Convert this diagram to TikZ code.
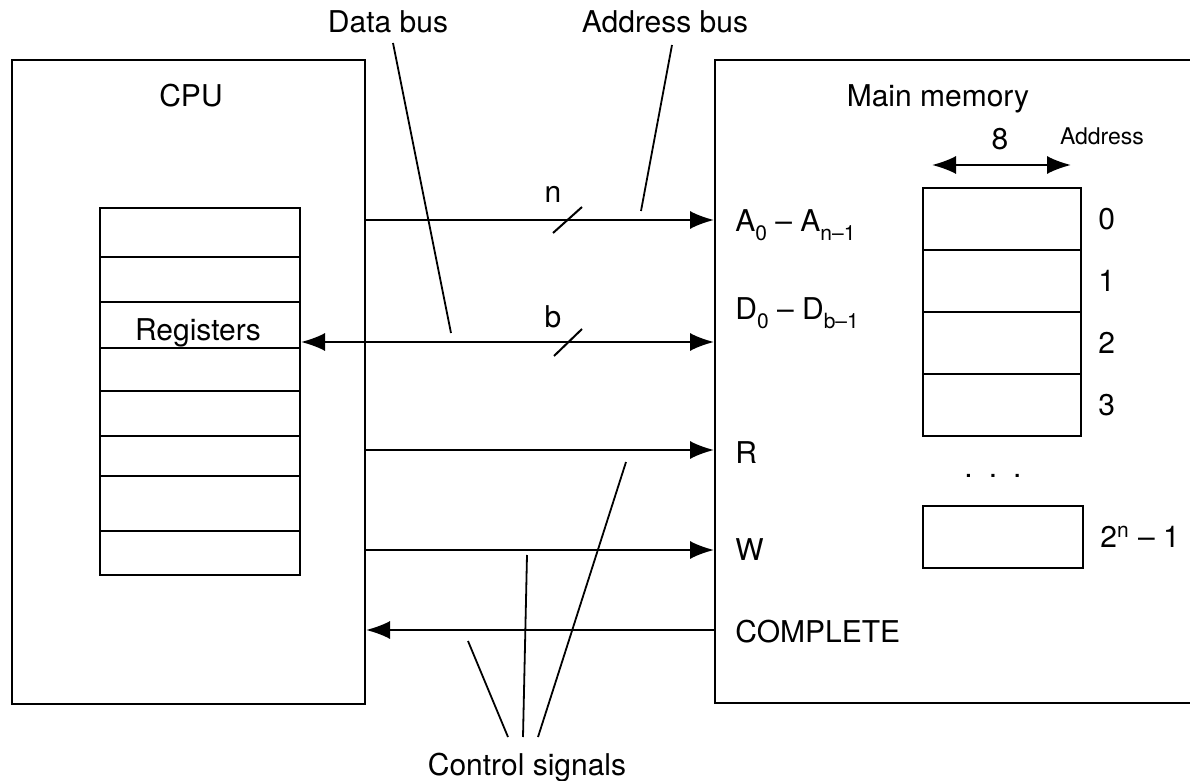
\documentclass[tikz,border=0pt]{standalone}
\usepackage{fontspec}
\setmainfont{TeX Gyre Heros}
\usetikzlibrary{arrows.meta,positioning}

\newcommand{\lowsub}[1]{\raisebox{-4.5pt}{\fontsize{10.5}{12}\selectfont #1}}

\tikzset{
  box/.style={draw, line width=1pt, inner sep=0pt},
  cell/.style={draw, line width=1pt, minimum width=79pt, minimum height=31pt, inner sep=0pt},
  bus/.style={line width=1pt, -{Latex[length=12pt,width=9pt]}},
  dbus/.style={line width=1pt, {Latex[length=12pt,width=9pt]}-{Latex[length=12pt,width=9pt]}},
  txt/.style={inner sep=0pt, anchor=base},
  sig/.style={inner sep=0pt, anchor=base west},
  leader/.style={line width=0.9pt},
}

\begin{document}
\begin{tikzpicture}[x=0.5pt, y=-0.5pt, font=\fontsize{15}{18}\selectfont]
\useasboundingbox (0,0) rectangle (1190,781);
\clip (0,0) rectangle (1190,781);

% the two units
\node[box, minimum width=176.5pt, minimum height=322pt] (cpu) at (188.5,382) {};
\node[box, minimum width=240.5pt, minimum height=321.5pt] (mem) at (955.5,381.5) {};
\node[txt] (cputitle) at (191,107) {CPU};
\node[txt] (memtitle) at (938,107) {Main memory};

% registers
\node[box, minimum width=100pt, minimum height=183.5pt] (regs) at (200,391.5) {};
\foreach \y in {257,302,348,391,436,476,531}
  \draw[line width=1pt] (regs.west |- 0,\y) -- (regs.east |- 0,\y);
\node[txt] (reglabel) at (198,340) {Registers};

% memory cells
\foreach \i in {0,...,3} {
  \node[cell] (cell\i) at (1002,219+62*\i) {};
  \node[inner sep=0pt, right=8pt of cell\i] (addr\i) {\i};
}
\node[cell, minimum width=80pt] (celln) at (1003,537) {};
\node[inner sep=0pt, right=8pt of celln] (addrn) {2\textsuperscript{n} – 1};
\node[txt] (dots) at (993,477) {.\hspace{8pt}.\hspace{8pt}.};

% word width
\coordinate (wl) at (932,165);
\coordinate (wr) at (1071,165);
\draw[dbus] (wl) -- (wr);
\node[txt] (width) at (1000,150) {8};
\node[txt, font=\fontsize{11.5}{14}\selectfont] (addrhead) at (1102,145) {Address};

% signal lines
\foreach \n/\y in {ya/220, yd/342, yr/450, yw/550, yc/630}
  \coordinate (\n) at (0,\y);
\node[sig] (alab) at (735,232) {A\lowsub{0} – A\lowsub{n–1}};
\node[sig] (dlab) at (735,320) {D\lowsub{0} – D\lowsub{b–1}};
\node[sig] (rlab) at (735,463) {R};
\node[sig] (wlab) at (735,560) {W};
\node[sig] (clab) at (735,642) {COMPLETE};

\draw[bus] (cpu.east |- ya) -- (mem.west |- ya);
\draw[dbus] (regs.east |- yd) -- (mem.west |- yd);
\draw[bus] (cpu.east |- yr) -- (mem.west |- yr);
\draw[bus] (cpu.east |- yw) -- (mem.west |- yw);
\draw[bus] (mem.west |- yc) -- (cpu.east |- yc);

% bus widths
\node[txt] (nbits) at (553,203) {n};
\node[txt] (bbits) at (553,327) {b};
\draw[line width=1pt] (553,233) -- (582,207);
\draw[line width=1pt] (554,356) -- (582,329);

% callouts
\node[txt] (databus) at (388,33) {Data bus};
\node[txt] (addrbus) at (665,33) {Address bus};
\node[txt] (ctrl) at (527,775) {Control signals};
\coordinate (db1) at (393,43);
\coordinate (db2) at (451,333);
\coordinate (ab1) at (672,45);
\coordinate (ab2) at (641,211);
\draw[leader] (db1) -- (db2);
\draw[leader] (ab1) -- (ab2);
\coordinate (c1) at (508,737);
\coordinate (c2) at (523,737);
\coordinate (c3) at (538,737);
\draw[leader] (c1) -- (468,641);
\draw[leader] (c2) -- (527,555);
\draw[leader] (c3) -- (626,462);
\end{tikzpicture}
\end{document}
